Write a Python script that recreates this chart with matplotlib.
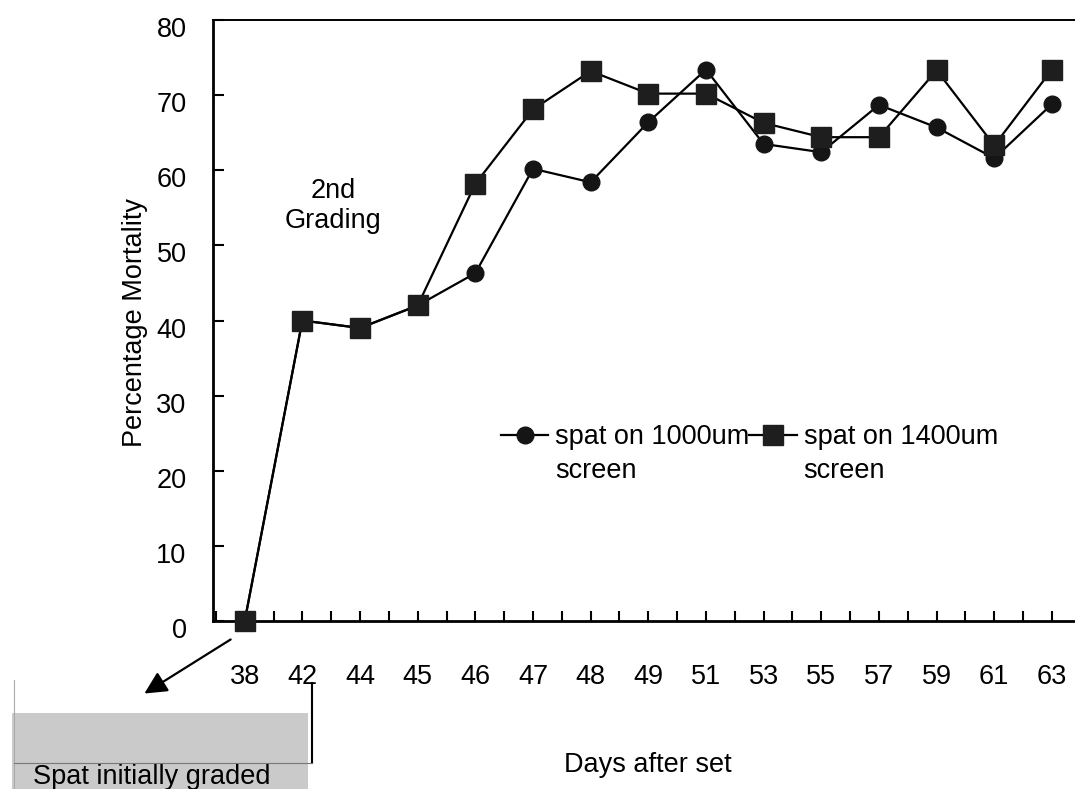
import matplotlib
matplotlib.use('Agg')
import matplotlib.pyplot as plt
import matplotlib.transforms as mtransforms
from matplotlib.lines import Line2D
from matplotlib.patches import Rectangle
import numpy as np

plt.rcParams['font.family'] = ['Liberation Sans', 'DejaVu Sans']
plt.rcParams['font.size'] = 19.5

# Data
days = ['38', '42', '44', '45', '46', '47', '48', '49', '51', '53', '55', '57', '59', '61', '63']
mort_1000 = [0, 40, 39, 42, 46.3, 60.2, 58.4, 66.4, 73.4, 63.5, 62.4, 68.7, 65.7, 61.6, 68.8]
mort_1400 = [0, 40, 39, 42, 58.2, 68.1, 73.2, 70.2, 70.2, 66.3, 64.4, 64.4, 73.3, 63.3, 73.4]

W, H = 1075, 789
fig = plt.figure(figsize=(W / 100, H / 100), dpi=100)
ax = fig.add_axes([213 / W, 1 - 621 / H, 1 - 213 / W, (621 - 20) / H])

x = np.arange(len(days))
ax.plot(x, mort_1000, color='black', lw=1.6, marker='o', ms=12,
        mfc='#151515', mec='#151515', label='spat on 1000um', clip_on=False, zorder=3)
ax.plot(x, mort_1400, color='black', lw=1.6, marker='s', ms=15,
        mfc='#1e1e1e', mec='#1e1e1e', label='spat on 1400um', clip_on=False, zorder=4)

ax.set_xlim(-0.55, 14.4)
ax.set_ylim(0, 80)
ax.set_xticks(x)
ax.set_xticklabels(days)
ax.set_xticks(np.arange(-0.5, 14.5, 1.0), minor=True)
ax.set_yticks(np.arange(0, 81, 10))

for s in ['left', 'bottom']:
    ax.spines[s].set_linewidth(2)
ax.spines['top'].set_linewidth(1.4)
ax.spines['right'].set_visible(False)

ax.tick_params(axis='y', direction='in', length=8, width=1.5, pad=19)
ax.tick_params(axis='x', which='both', direction='in', length=7, width=1.5, pad=31)

# y tick labels sit a little below their ticks in the original
shift = mtransforms.ScaledTranslation(0, -0.07, fig.dpi_scale_trans)
for lab in ax.get_yticklabels():
    lab.set_transform(lab.get_transform() + shift)

ax.set_ylabel('Percentage Mortality')
ax.yaxis.set_label_coords(-0.0754, 0.4975)
ax.set_xlabel('Days after set')
ax.xaxis.set_label_coords(0.505, -0.218)

ax.text(1.53, 55.3, '2nd\nGrading', ha='center', va='center')

leg = ax.legend(loc='center left', bbox_to_anchor=(501 / W, 1 - 437 / H),
                bbox_transform=fig.transFigure, ncol=2, frameon=False,
                handlelength=1.75, handletextpad=0.25, columnspacing=0.0,
                borderpad=0, borderaxespad=0)

# second line of each legend entry sits under its first line
fig.canvas.draw()
r = fig.canvas.get_renderer()
for t in leg.get_texts():
    bb = t.get_window_extent(r)
    fig.text(bb.x0 / W, (bb.y0 + bb.height / 2 - 34) / H, 'screen', ha='left', va='center')

# annotation below the axis: arrow, grey box and bracket
ax.annotate('', xy=(142, H - 695), xycoords='figure pixels',
            xytext=(233, H - 638), textcoords='figure pixels',
            arrowprops=dict(arrowstyle='-|>', color='black', lw=1.6, mutation_scale=34))
fig.patches.append(Rectangle((12 / W, 0), (308 - 12) / W, (H - 713) / H,
                             transform=fig.transFigure, facecolor='#cacaca', edgecolor='none'))
fig.add_artist(Line2D([14 / W, 14 / W], [0, 1 - 680 / H], transform=fig.transFigure,
                      color='#aaaaaa', lw=0.8))
fig.add_artist(Line2D([312 / W, 312 / W], [1 - 683 / H, 1 - 763 / H], transform=fig.transFigure,
                      color='black', lw=1.5))
fig.add_artist(Line2D([14 / W, 312 / W], [1 - 763 / H, 1 - 763 / H], transform=fig.transFigure,
                      color='#777777', lw=0.8))
fig.text(33 / W, 1 - 777 / H, 'Spat initially graded', ha='left', va='center')

fig.savefig('out.png', dpi=100)
